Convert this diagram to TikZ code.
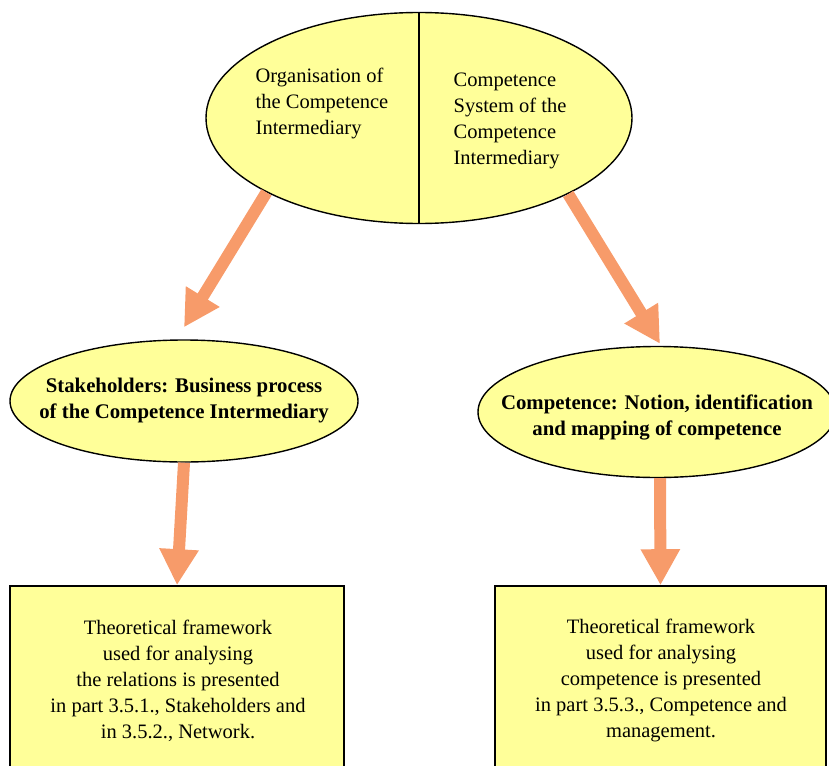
\documentclass[tikz,border=0pt]{standalone}
\usepackage{fontspec}
\setmainfont{Liberation Serif}
\usetikzlibrary{arrows.meta,shapes.geometric}
\definecolor{paleyellow}{RGB}{255,255,153}
\definecolor{salmonarrow}{RGB}{247,155,106}

\begin{document}
\begin{tikzpicture}[x=1pt,y=-1pt,
  bubble/.style={ellipse, draw=black, line width=1.4pt, fill=paleyellow, inner sep=0pt},
  panel/.style={rectangle, draw=black, line width=1.6pt, fill=paleyellow, inner sep=0pt},
  txt/.style={font=\fontsize{20.5}{26}\selectfont, inner sep=0pt},
  boldtxt/.style={font=\fontsize{20.8}{26}\selectfont\bfseries, inner sep=0pt, align=center},
  bigarrow/.style={draw=salmonarrow, line width=12pt, -{Triangle[length=36pt,width=37pt]}}
]
\useasboundingbox (0,0) rectangle (829,765);
\clip (0,0) rectangle (829,765);

% top split ellipse
\node[bubble, minimum width=426pt, minimum height=211pt] (top) at (419,118) {};
\draw[line width=1.4pt] (top.north) -- (top.south);
\node[txt, align=left] (topL) at (322,103) {Organisation of\\the Competence\\Intermediary};
\node[txt, align=left] (topR) at (510,121) {Competence\\System of the\\Competence\\Intermediary};

% middle ellipses
\node[bubble, minimum width=348pt, minimum height=122pt] (stake) at (184,401) {};
\node[boldtxt] (stakeT) at (184,401) {Stakeholders: Business process\\of the Competence Intermediary};
\node[bubble, minimum width=358pt, minimum height=131pt] (comp) at (657,412) {};
\node[boldtxt] (compT) at (657,417) {Competence: Notion, identification\\and mapping of competence};

% bottom panels (run past the lower edge)
\node[panel, minimum width=334pt, minimum height=220pt] (boxL) at (177,696) {};
\node[txt, align=center] (boxLT) at (178,680.5) {Theoretical framework\\used for analysing\\the relations is presented\\in part 3.5.1., Stakeholders and\\in 3.5.2., Network.};
\node[panel, minimum width=331pt, minimum height=220pt] (boxR) at (660.5,696) {};
\node[txt, align=center] (boxRT) at (661,680.5) {Theoretical framework\\used for analysing\\competence is presented\\in part 3.5.3., Competence and\\management.};

% connectors
\draw[bigarrow] (top.206.7) -- ([yshift=12pt]stake.north);
\draw[bigarrow] (top.333.6) -- ([xshift=3pt,yshift=2pt]comp.north);
\draw[bigarrow] (stake.south) -- (boxL.north);
\draw[bigarrow] ([xshift=3pt]comp.south) -- (boxR.north);
\end{tikzpicture}
\end{document}
